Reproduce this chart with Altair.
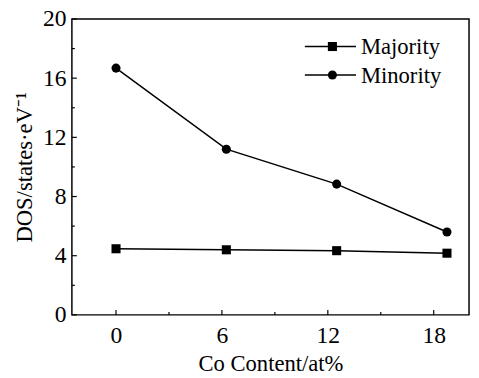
import altair as alt
import pandas as pd

# Data
co_content = [0, 6.25, 12.5, 18.75]
majority = [4.47, 4.40, 4.34, 4.17]
minority = [16.68, 11.2, 8.84, 5.6]
series_names = ["Majority", "Minority"]

x_ticks_major = [0, 6, 12, 18]
x_ticks_minor = [3, 9, 15]
y_ticks_major = [0, 4, 8, 12, 16, 20]
y_ticks_minor = [2, 6, 10, 14, 18]

FONT = "Times New Roman"
W, H = 404, 301

df = pd.DataFrame({
    "x": co_content * 2,
    "y": majority + minority,
    "series": [series_names[0]] * 4 + [series_names[1]] * 4,
})

xscale = alt.Scale(domain=[-2.5, 20], nice=False, zero=False)
yscale = alt.Scale(domain=[0, 20], nice=False)
xaxis = alt.Axis(values=x_ticks_major, ticks=False, domain=False, grid=False,
                 labelPadding=9, title="Co Content/at%", titlePadding=6,
                 labelFont=FONT, titleFont=FONT, labelFontSize=24, titleFontSize=23,
                 titleFontWeight="normal", labelColor="black", titleColor="black")
yaxis = alt.Axis(values=y_ticks_major, ticks=False, domain=False, grid=False,
                 labelPadding=6, title="DOS/states·eV⁻¹", titlePadding=6,
                 labelFont=FONT, titleFont=FONT, labelFontSize=24, titleFontSize=23,
                 titleFontWeight="normal", labelColor="black", titleColor="black")

X = alt.X("x:Q", scale=xscale, axis=xaxis)
Y = alt.Y("y:Q", scale=yscale, axis=yaxis)

lines = alt.Chart(df).mark_line(color="black", strokeWidth=1.5).encode(
    x=X, y=Y, detail="series:N")
points = alt.Chart(df).mark_point(filled=True, color="black", size=85, opacity=1).encode(
    x=X, y=Y,
    shape=alt.Shape("series:N", scale=alt.Scale(domain=series_names, range=["square", "circle"]), legend=None))

def yticks(vals, length):
    d = pd.DataFrame({"y": vals})
    return alt.Chart(d).mark_rule(color="black", strokeWidth=1.2).encode(
        y=Y, x=alt.value(0), x2=alt.value(length))

def xticks(vals, length):
    d = pd.DataFrame({"x": vals})
    return alt.Chart(d).mark_rule(color="black", strokeWidth=1.2).encode(
        x=X, y=alt.value(H), y2=alt.value(H - length))

# Manual legend
leg_y = [28, 57]
legend_layers = []
for i, name in enumerate(series_names):
    d = pd.DataFrame({"series": [name]})
    legend_layers.append(alt.Chart(d).mark_rule(color="black", strokeWidth=1.5).encode(
        x=alt.value(237), x2=alt.value(289), y=alt.value(leg_y[i])))
    legend_layers.append(alt.Chart(d).mark_point(filled=True, color="black", size=85, opacity=1,
                                                  shape=["square", "circle"][i]).encode(
        x=alt.value(265), y=alt.value(leg_y[i])))
    legend_layers.append(alt.Chart(d).mark_text(font=FONT, fontSize=23, align="left",
                                                 baseline="middle", color="black").encode(
        x=alt.value(294), y=alt.value(leg_y[i] + 1), text="series:N"))

chart = alt.layer(
    lines, points,
    yticks(y_ticks_major, 5), yticks(y_ticks_minor, 3),
    xticks(x_ticks_major, 5), xticks(x_ticks_minor, 3),
    *legend_layers
).properties(
    width=W, height=H,
    autosize=alt.AutoSizeParams(type="none"),
    padding={"left": 65, "top": 8, "right": 2, "bottom": 60},
).configure(background="white").configure_view(stroke="black", strokeWidth=1.5)

chart.save("out.html", embed_options={"renderer": "svg", "actions": False})
